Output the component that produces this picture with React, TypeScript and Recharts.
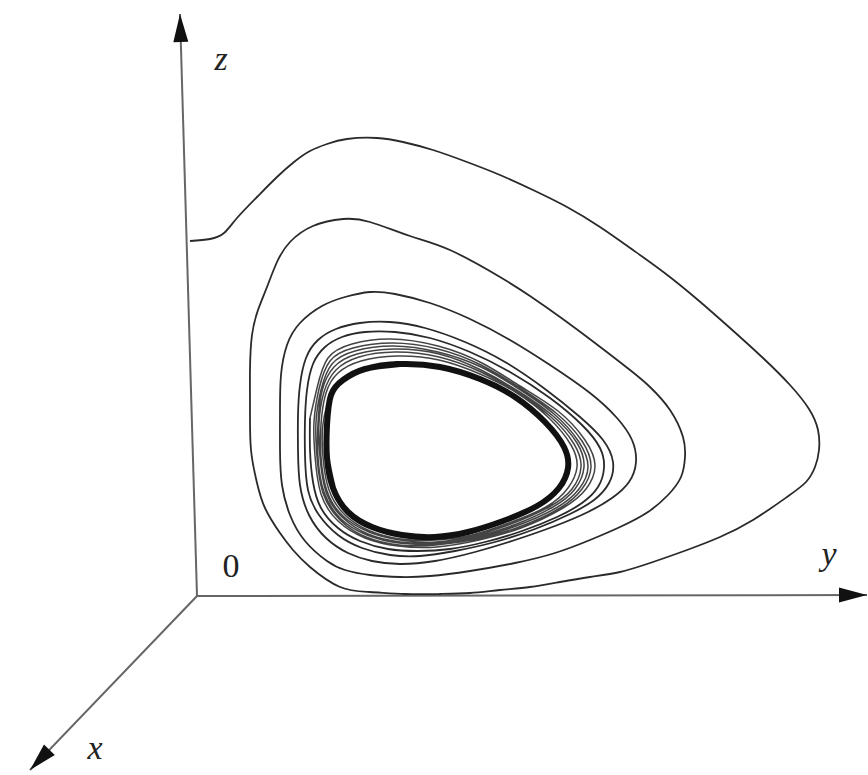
import React from 'react';
import { ComposedChart, Line, Scatter, XAxis, YAxis } from 'recharts';

type Pt = [number, number];

// Trajectory projected on the (y, z) plane, one array per turn of the spiral.
const pass1: Pt[] = [
  [-0.07, 3.55], [0.13, 3.57], [0.27, 3.63], [0.40, 3.78], [0.60, 3.99], [0.80, 4.19],
  [0.97, 4.34], [1.13, 4.45], [1.30, 4.52], [1.50, 4.57], [1.80, 4.58], [2.06, 4.54],
  [2.36, 4.46], [2.70, 4.34], [3.03, 4.21], [3.36, 4.06], [3.70, 3.89], [4.03, 3.69],
  [4.36, 3.46], [4.69, 3.22], [5.01, 2.96], [5.33, 2.68], [5.66, 2.38], [5.93, 2.11],
  [6.12, 1.87], [6.21, 1.66], [6.22, 1.46], [6.18, 1.29], [6.09, 1.14], [5.90, 0.99],
  [5.56, 0.76], [5.23, 0.59], [4.90, 0.46], [4.56, 0.34], [4.23, 0.24], [3.93, 0.19],
  [3.63, 0.14], [3.33, 0.09], [3.03, 0.06], [2.73, 0.03], [2.43, 0.02], [2.08, 0.02],
  [1.73, 0.04], [1.43, 0.09], [1.13, 0.29], [0.96, 0.46], [0.83, 0.63], [0.68, 0.88],
  [0.60, 1.13], [0.54, 1.46], [0.53, 1.86], [0.53, 2.26], [0.55, 2.61], [0.61, 2.86],
];

const pass2: Pt[] = [
  [0.70, 3.09], [0.80, 3.34], [0.93, 3.54], [1.16, 3.70], [1.46, 3.77], [1.73, 3.74],
  [2.13, 3.60], [2.53, 3.46], [3.03, 3.19], [3.33, 3.00], [3.63, 2.79], [3.98, 2.53],
  [4.33, 2.26], [4.53, 2.09], [4.73, 1.86], [4.86, 1.59], [4.88, 1.39], [4.84, 1.19],
  [4.71, 1.01], [4.51, 0.84], [4.23, 0.69], [3.93, 0.56], [3.58, 0.43], [3.18, 0.33],
  [2.73, 0.25], [2.33, 0.20], [2.03, 0.19], [1.73, 0.21], [1.48, 0.26], [1.30, 0.35],
  [1.08, 0.55], [0.93, 0.81], [0.85, 1.11], [0.83, 1.46], [0.83, 1.86], [0.84, 2.21],
  [0.90, 2.51],
];

const pass3: Pt[] = [
  [1.03, 2.73], [1.25, 2.90], [1.48, 2.99], [1.73, 3.04], [1.98, 3.02], [2.33, 2.93],
  [2.73, 2.77], [3.13, 2.56], [3.53, 2.31], [3.93, 2.03], [4.20, 1.78], [4.35, 1.56],
  [4.39, 1.34], [4.32, 1.14], [4.15, 0.98], [3.91, 0.84], [3.58, 0.70], [3.18, 0.56],
  [2.78, 0.44], [2.38, 0.35], [2.03, 0.32], [1.75, 0.35], [1.51, 0.43], [1.29, 0.58],
  [1.12, 0.81], [1.03, 1.11], [1.01, 1.46], [1.01, 1.81], [1.03, 2.11],
];

const pass4: Pt[] = [
  [1.09, 2.38], [1.21, 2.56], [1.39, 2.67], [1.63, 2.73], [1.93, 2.74], [2.28, 2.68],
  [2.68, 2.54], [3.08, 2.34], [3.48, 2.07], [3.83, 1.79], [4.06, 1.56], [4.16, 1.34],
  [4.12, 1.13], [3.97, 0.96], [3.73, 0.82], [3.38, 0.67], [2.98, 0.54], [2.58, 0.45],
  [2.23, 0.40], [1.93, 0.41], [1.65, 0.48], [1.41, 0.61], [1.22, 0.81], [1.11, 1.06],
  [1.08, 1.41], [1.08, 1.76], [1.10, 2.06],
];

const pass5: Pt[] = [
  [1.16, 2.32], [1.28, 2.49], [1.45, 2.59], [1.68, 2.64], [1.98, 2.64], [2.33, 2.58],
  [2.73, 2.44], [3.13, 2.24], [3.53, 1.98], [3.85, 1.71], [4.03, 1.48], [4.07, 1.28],
  [4.01, 1.09], [3.85, 0.93], [3.60, 0.79], [3.25, 0.65], [2.88, 0.54], [2.53, 0.47],
  [2.21, 0.45], [1.91, 0.47], [1.63, 0.55], [1.41, 0.68], [1.24, 0.88], [1.16, 1.14],
  [1.13, 1.46], [1.13, 1.78],
];

// tightly packed turns winding onto the cycle
const band1: Pt[] = [
  [1.20, 2.08], [1.31, 2.38], [1.55, 2.52], [1.93, 2.57], [2.41, 2.50], [2.85, 2.33],
  [3.23, 2.10], [3.61, 1.85], [3.88, 1.56], [3.98, 1.30], [3.89, 1.07], [3.66, 0.88],
  [3.24, 0.68], [2.82, 0.56], [2.40, 0.49], [2.01, 0.50], [1.68, 0.58], [1.41, 0.75],
  [1.24, 1.02], [1.18, 1.40], [1.17, 1.74],
];

const band2: Pt[] = [
  [1.22, 2.07], [1.33, 2.35], [1.56, 2.48], [1.95, 2.53], [2.41, 2.47], [2.84, 2.31],
  [3.23, 2.08], [3.59, 1.83], [3.85, 1.55], [3.94, 1.29], [3.85, 1.07], [3.63, 0.88],
  [3.22, 0.69], [2.80, 0.57], [2.39, 0.51], [2.02, 0.51], [1.69, 0.59], [1.43, 0.76],
  [1.26, 1.03], [1.20, 1.39], [1.19, 1.74],
];

const band3: Pt[] = [
  [1.24, 2.06], [1.35, 2.32], [1.58, 2.45], [1.96, 2.50], [2.41, 2.44], [2.84, 2.29],
  [3.22, 2.07], [3.57, 1.82], [3.82, 1.54], [3.91, 1.29], [3.82, 1.07], [3.59, 0.88],
  [3.19, 0.70], [2.79, 0.58], [2.39, 0.52], [2.02, 0.53], [1.70, 0.61], [1.44, 0.77],
  [1.27, 1.04], [1.21, 1.39], [1.21, 1.73],
];

const band4: Pt[] = [
  [1.25, 2.05], [1.37, 2.29], [1.60, 2.42], [1.97, 2.47], [2.42, 2.42], [2.84, 2.26],
  [3.21, 2.05], [3.56, 1.80], [3.80, 1.53], [3.87, 1.29], [3.78, 1.07], [3.56, 0.89],
  [3.17, 0.71], [2.77, 0.59], [2.39, 0.53], [2.03, 0.54], [1.71, 0.62], [1.45, 0.79],
  [1.29, 1.04], [1.23, 1.39], [1.22, 1.73],
];

const band5: Pt[] = [
  [1.27, 2.04], [1.39, 2.26], [1.62, 2.39], [1.98, 2.44], [2.42, 2.39], [2.84, 2.24],
  [3.20, 2.04], [3.54, 1.79], [3.77, 1.52], [3.84, 1.29], [3.75, 1.07], [3.52, 0.89],
  [3.14, 0.72], [2.76, 0.60], [2.39, 0.54], [2.03, 0.56], [1.72, 0.64], [1.46, 0.80],
  [1.30, 1.05], [1.24, 1.39], [1.24, 1.72],
];

const band6: Pt[] = [
  [1.29, 2.03], [1.41, 2.23], [1.64, 2.35], [2.00, 2.40], [2.42, 2.36], [2.83, 2.22],
  [3.20, 2.03], [3.52, 1.78], [3.74, 1.51], [3.80, 1.29], [3.71, 1.08], [3.49, 0.89],
  [3.12, 0.73], [2.75, 0.61], [2.39, 0.56], [2.04, 0.57], [1.73, 0.65], [1.48, 0.81],
  [1.32, 1.06], [1.26, 1.39], [1.26, 1.72],
];

// the closed cycle the spiral settles on
const limitCycle: Pt[] = [
  [1.34, 2.01], [1.46, 2.16], [1.68, 2.27], [2.03, 2.32], [2.43, 2.29], [2.83, 2.17],
  [3.18, 1.99], [3.48, 1.74], [3.67, 1.49], [3.71, 1.28], [3.62, 1.08], [3.40, 0.90],
  [3.06, 0.75], [2.71, 0.64], [2.38, 0.59], [2.05, 0.61], [1.75, 0.69], [1.51, 0.84],
  [1.36, 1.08], [1.30, 1.38], [1.30, 1.71],
];

// axes: origin to arrow tip
const zAxisEnds: Pt[] = [[0, 0], [-0.17, 5.82]];
const yAxisEnds: Pt[] = [[0, 0], [6.70, 0.01]];
const xAxisEnds: Pt[] = [[0, 0], [-1.67, -1.74]];

const axisNames = ['z', 'y', 'x', '0'];
const axisNamePos: Pt[] = [[0.24, 5.38], [6.32, 0.43], [-1.02, -1.51], [0.34, 0.31]];

const toRows = (pts: Pt[]) => pts.map(([u, v]) => ({ u, v }));

const outerTurns = toRows([...pass1, ...pass2, ...pass3, ...pass4, ...pass5]);
const innerTurns = toRows([
  pass5[pass5.length - 1],
  ...band1, ...band2, ...band3, ...band4, ...band5, ...band6, ...limitCycle, limitCycle[0],
]);
// wrap a few points past the seam so the closed loop has no corner
const cycleRows = toRows([...limitCycle.slice(-3), ...limitCycle, ...limitCycle.slice(0, 4)]);

const labelRows = axisNames.map((name, i) => ({
  name,
  italic: name !== '0',
  u: axisNamePos[i][0],
  v: axisNamePos[i][1],
}));

const W = 868;
const H = 775;

// Both scales are 100 px per unit, so the data slope gives the on-screen angle.
const arrowDot = (ends: Pt[]) => (props: any) => {
  const { cx, cy, index } = props;
  if (index !== ends.length - 1) return <g key={`a${index}`} />;
  const [u0, v0] = ends[0];
  const [u1, v1] = ends[ends.length - 1];
  const ang = (Math.atan2(-(v1 - v0), u1 - u0) * 180) / Math.PI;
  return (
    <polygon
      key={`a${index}`}
      points="0,0 -28,-7.5 -28,7.5"
      transform={`translate(${cx},${cy}) rotate(${ang})`}
      fill="#111"
    />
  );
};

const AxisLabel = (p: any) => (
  <text
    x={p.cx}
    y={p.cy}
    textAnchor="middle"
    dominantBaseline="central"
    fontFamily="'Liberation Serif', 'DejaVu Serif', serif"
    fontStyle={p.payload.italic ? 'italic' : 'normal'}
    fontSize={34}
    fill="#222"
  >
    {p.payload.name}
  </text>
);

export default function App() {
  const axes = [zAxisEnds, yAxisEnds, xAxisEnds];
  return (
    <div style={{ position: 'absolute', left: 0, top: 0, width: W, height: H, background: '#fff' }}>
      <ComposedChart width={W} height={H} margin={{ top: 0, right: 0, bottom: 0, left: 0 }}>
        <XAxis type="number" dataKey="u" domain={[-1.97, 6.71]} allowDataOverflow hide />
        <YAxis type="number" dataKey="v" domain={[-1.79, 5.96]} allowDataOverflow hide />
        {axes.map((ends, i) => (
          <Line
            key={`axis${i}`}
            data={toRows(ends)}
            dataKey="v"
            type="linear"
            stroke="#666"
            strokeWidth={2}
            dot={arrowDot(ends)}
            activeDot={false}
            isAnimationActive={false}
          />
        ))}
        <Line
          data={outerTurns}
          dataKey="v"
          type="natural"
          stroke="#2a2a2a"
          strokeWidth={1.8}
          dot={false}
          activeDot={false}
          isAnimationActive={false}
        />
        <Line
          data={innerTurns}
          dataKey="v"
          type="natural"
          stroke="#444"
          strokeWidth={1.5}
          dot={false}
          activeDot={false}
          isAnimationActive={false}
        />
        <Line
          data={cycleRows}
          dataKey="v"
          type="natural"
          stroke="#111"
          strokeWidth={6}
          dot={false}
          activeDot={false}
          isAnimationActive={false}
        />
        <Scatter data={labelRows} shape={AxisLabel} isAnimationActive={false} />
      </ComposedChart>
    </div>
  );
}
